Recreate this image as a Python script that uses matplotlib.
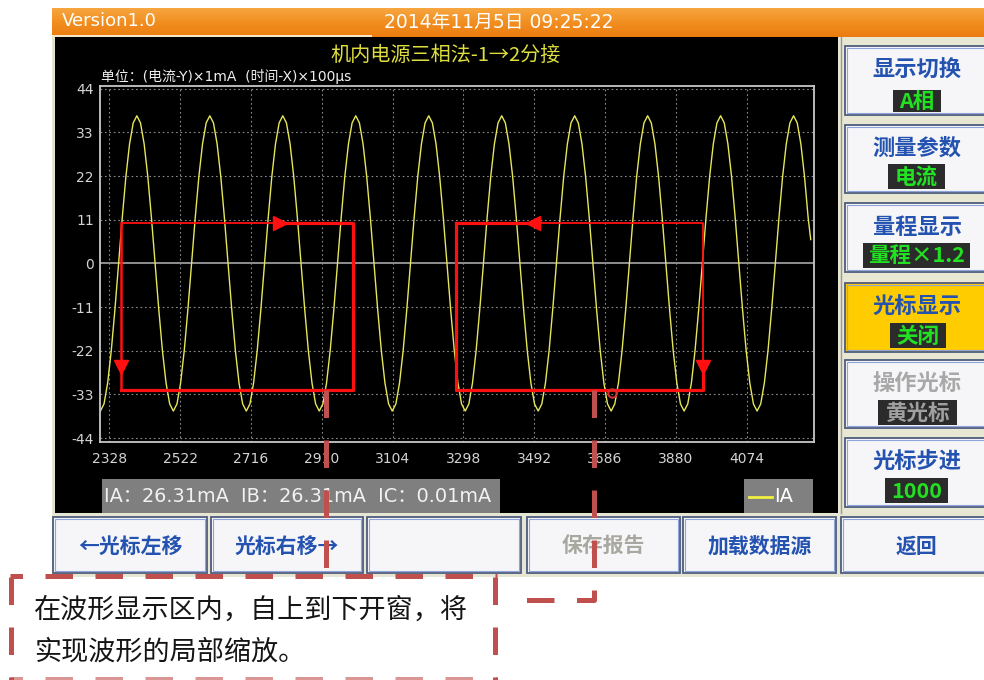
import numpy as np
import matplotlib
matplotlib.use('Agg')
import matplotlib.pyplot as plt
from matplotlib.patches import Rectangle
from matplotlib.colors import LinearSegmentedColormap

plt.rcParams['font.family'] = ['DejaVu Sans', 'Noto Sans CJK SC']
plt.rcParams['axes.unicode_minus'] = False
CJK = ['Noto Sans CJK SC', 'DejaVu Sans']

# ---------------- data ----------------
version_text = 'Version1.0'
date_text = '2014年11月5日 09:25:22'
chart_title = '机内电源三相法-1→2分接'
unit_text = '单位：(电流-Y)×1mA  (时间-X)×100μs'
x_ticks = [2328, 2522, 2716, 2910, 3104, 3298, 3492, 3686, 3880, 4074]
y_ticks = [-44, -33, -22, -11, 0, 11, 22, 33, 44]
x_range = (2302, 4259)
y_range = (-45, 44.7)

# waveform: trough times of each cycle and the
# sample values of one cycle (offsets from trough, in 100 us units)
trough_times = [2303, 2503, 2703, 2903, 3103, 3303, 3503, 3703, 3903, 4103]
cycle_offsets = [0, 10, 20, 30, 40, 50, 60, 70, 80, 90,
                 100, 110, 120, 130, 140, 150, 160, 170, 180, 190]
cycle_values = [-37.2, -35.4, -30.1, -21.9, -11.5, 0.0, 11.5, 21.9, 30.1, 35.4,
                37.2, 35.4, 30.1, 21.9, 11.5, 0.0, -11.5, -21.9, -30.1, -35.4]
wave_end = (4250, 6.0)

series_name = 'IA'
status_text = 'IA：26.31mA  IB：26.31mA  IC：0.01mA'

# zoom windows (x0, x1, y_top, y_bottom) in data units
zoom_windows = [(2360, 2995, 10.1, -31.8), (3278, 3954, 10.1, -31.8)]
cursor_mark = (3705, -32.6)

side_labels = ['显示切换', '测量参数', '量程显示', '光标显示', '操作光标', '光标步进']
side_values = ['A相', '电流', '量程×1.2', '关闭', '黄光标', '1000']
bottom_labels = ['←光标左移', '光标右移→', '', '保存报告', '加载数据源', '返回']
note_lines = ['在波形显示区内，自上到下开窗，将', '实现波形的局部缩放。']

# ---------------- figure ----------------
W, H = 984, 680
fig = plt.figure(figsize=(W / 100, H / 100), dpi=100)
fig.patch.set_facecolor('white')

bg = fig.add_axes([0, 0, 1, 1], zorder=0)
bg.set_axis_off()

# orange title bar with gradient
cmap = LinearSegmentedColormap.from_list('org', ['#F7A640', '#F18E20', '#EC7C10'])
grad = np.linspace(0, 1, 64).reshape(-1, 1)
bg.imshow(grad, cmap=cmap, extent=(52, 984, 37, 8), origin='upper', aspect='auto')
bg.add_patch(Rectangle((52, 35), 320, 2, fc='#F3E6C6', ec='none'))
bg.text(62, 21.5, version_text, color='white', fontsize=13, va='center', ha='left')
bg.text(499, 22, date_text, color='white', fontsize=13.5, va='center', ha='center',
        family=['DejaVu Sans', 'Noto Sans CJK SC'])

# black screen
bg.add_patch(Rectangle((52, 37), 3, 476, fc='#E4E4CE', ec='none'))
bg.add_patch(Rectangle((55, 37), 783, 476, fc='black', ec='none'))
bg.text(446, 55, chart_title, color='#DEDE3E', fontsize=14.5, ha='center', va='center', family=CJK)
bg.text(101, 77, unit_text, color='#EEEEEE', fontsize=10, ha='left', va='center')

# status bar and legend box
bg.add_patch(Rectangle((102, 479), 398, 34, fc='#7F7F7F', ec='none'))
bg.text(104, 496.5, status_text, color='#F2F2F2', fontsize=13.9, ha='left', va='center')
bg.add_patch(Rectangle((744, 479), 69, 34, fc='#808080', ec='none'))
bg.plot([749, 772], [497, 497], color='#F0F040', lw=2)
bg.text(774, 497, series_name, color='white', fontsize=14, ha='left', va='center')

# right panel
bg.add_patch(Rectangle((838, 37), 146, 476, fc='#E8E7D3', ec='none'))
bg.plot([840.5, 840.5], [37, 513], color='#9A9A90', lw=1)
side_rows = [(46, 115, 70, (893, 941, 90, 112)),
             (125, 193, 148, (888, 945, 164, 189)),
             (203, 272, 227, (863, 970, 243, 268)),
             (283, 352, 306, (890, 946, 323, 348)),
             (360, 428, 383, (878, 957, 400, 425)),
             (438, 507, 462, (885, 948, 478, 503))]
for i, (t, b, ly, (vx0, vx1, vy0, vy1)) in enumerate(side_rows):
    face = '#FFCC00' if i == 3 else '#F6F6F8'
    lab_col = '#A8A8A8' if i == 4 else '#2452B0'
    val_col = '#A0A0A0' if i == 4 else '#22E022'
    bg.add_patch(Rectangle((845, t), 160, b - t, fc=face, ec='#4E5C7E', lw=1.3))
    bg.add_patch(Rectangle((847, t + 2), 160, b - t - 4, fc='none', ec='#8FA4D8', lw=0.8))
    bg.text(917, ly, side_labels[i], color=lab_col, fontsize=16, fontweight='bold',
            ha='center', va='center', family=CJK)
    bg.add_patch(Rectangle((vx0, vy0), vx1 - vx0, vy1 - vy0, fc='#2B2B2B', ec='none'))
    bg.text((vx0 + vx1) / 2, (vy0 + vy1) / 2 + 0.5, side_values[i], color=val_col,
            fontsize=15.5, fontweight='bold', ha='center', va='center', family=CJK)

# bottom buttons
bg.add_patch(Rectangle((52, 513), 932, 64, fc='#E6E6D2', ec='none'))
bottom_x = [(53, 207), (211, 363), (367, 521), (527, 680), (683, 836), (841, 1000)]
for i, (x0, x1) in enumerate(bottom_x):
    bg.add_patch(Rectangle((x0, 517), x1 - x0, 56, fc='#F6F6F8', ec='#4E5C7E', lw=1.3))
    bg.add_patch(Rectangle((x0 + 2, 519), x1 - x0 - 4, 52, fc='none', ec='#8FA4D8', lw=0.8))
    col = '#A8A8A0' if i == 3 else '#2452B0'
    cx = (x0 + x1) / 2 if i < 5 else 917
    bg.text(cx, 546, bottom_labels[i], color=col, fontsize=15, fontweight='bold',
            ha='center', va='center', family=CJK)

bg.set_xlim(0, W)
bg.set_ylim(H, 0)

# ---------------- plot axes ----------------
ax = fig.add_axes([100 / W, 1 - 442 / H, 714 / W, 356 / H], zorder=1)
ax.set_facecolor('black')

wave_t, wave_v = [], []
for tt in trough_times:
    for off, val in zip(cycle_offsets, cycle_values):
        if tt + off < wave_end[0]:
            wave_t.append(tt + off)
            wave_v.append(val)
wave_t.append(wave_end[0])
wave_v.append(wave_end[1])

for yv in y_ticks:
    if yv == 0:
        ax.axhline(yv, color='#A8A8A8', lw=1.2, zorder=1)
    else:
        ax.axhline(yv, color='#8C8C8C', lw=0.8, ls=(0, (1.5, 2.5)), zorder=1)
for xv in x_ticks:
    ax.axvline(xv, color='#8C8C8C', lw=0.8, ls=(0, (1.5, 2.5)), zorder=1)

ax.plot(wave_t, wave_v, color='#E6E65A', lw=1.0, zorder=2)

ax.set_xlim(*x_range)
ax.set_ylim(*y_range)
ax.set_xticks(x_ticks)
ax.set_yticks(y_ticks)
ax.tick_params(axis='both', length=0, colors='#D4D4D4', labelsize=10)
ax.tick_params(axis='y', pad=4.5)
ax.tick_params(axis='x', pad=7)
for s in ax.spines.values():
    s.set_color('#C8C8C8')
    s.set_linewidth(1.3)

# red zoom windows
RED = '#FF1010'
thin, thick = 1.3, 2.3
(a0, a1, at, ab), (b0, b1, bt, bb) = zoom_windows
# left window
ax.plot([a0, 2776], [at, at], color=RED, lw=thin, zorder=4, solid_capstyle='butt')
ax.plot([2812, a1, a1, a0], [at, at, ab, ab], color=RED, lw=thick, zorder=4)
ax.plot([a0, a0], [at, ab], color=RED, lw=1.8, zorder=4)
ax.plot([2795], [at], marker='>', ms=10, color=RED, zorder=5)
ax.plot([a0], [-26.0], marker='v', ms=10, color=RED, zorder=5)
# right window
ax.plot([b0, 3472], [bt, bt], color=RED, lw=thick, zorder=4)
ax.plot([3508, b1, b1], [bt, bt, -24.5], color=RED, lw=thin, zorder=4)
ax.plot([b1, b1, b0, b0], [-27.5, bb, bb, bt], color=RED, lw=thick, zorder=4)
ax.plot([3490], [bt], marker='<', ms=10, color=RED, zorder=5)
ax.plot([b1], [-26.0], marker='v', ms=10, color=RED, zorder=5)
ax.plot([cursor_mark[0]], [cursor_mark[1]], marker='o', ms=6, mfc='none',
        mec='#D03030', mew=1.5, zorder=5)

# ---------------- overlay annotation ----------------
ov = fig.add_axes([0, 0, 1, 1], zorder=5)
ov.set_axis_off()
ov.patch.set_alpha(0)
DASH = '#C0504D'
dls = (0, (5.5, 4.5))
ov.plot([326, 326], [390, 577], color=DASH, lw=3.6, ls=dls, dash_capstyle='butt')
ov.plot([594, 594, 520], [390, 600, 600], color=DASH, lw=3.6, ls=dls, dash_capstyle='butt')
ov.plot([10, 497], [576, 576], color=DASH, lw=3.6, ls=(3, (5.5, 4.5)), dash_capstyle='butt')
ov.plot([11, 11], [577, 680], color=DASH, lw=3.6, ls=dls, dash_capstyle='butt')
ov.plot([495, 495], [577, 680], color=DASH, lw=3.6, ls=dls, dash_capstyle='butt')
ov.plot([10, 497], [679, 679], color=DASH, lw=3.6, ls=(3, (5.5, 4.5)), dash_capstyle='butt',
        alpha=0.6)
ov.text(34, 610, note_lines[0], color='#151515', fontsize=19.5, ha='left', va='center', family=CJK)
ov.text(34, 652, note_lines[1], color='#151515', fontsize=19.5, ha='left', va='center', family=CJK)
ov.set_xlim(0, W)
ov.set_ylim(H, 0)

fig.savefig('out.png', dpi=100, facecolor='white')
